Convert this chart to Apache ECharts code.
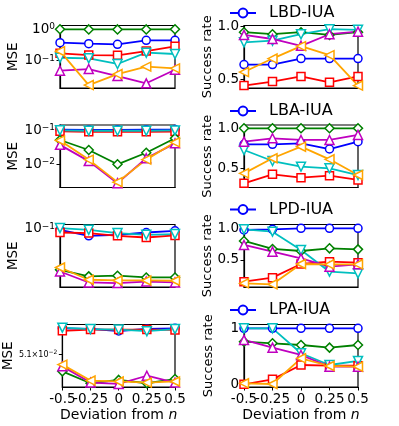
<!DOCTYPE html>
<html lang="en">
<head>
<meta charset="UTF-8">
<title>MSE and success rate vs deviation</title>
<script src="https://cdn.jsdelivr.net/npm/echarts@6/dist/echarts.min.js"></script>
<style>
  html, body { margin: 0; padding: 0; background: #fff; }
  #chart { width: 399px; height: 426px; }
</style>
</head>
<body>
<div id="chart"></div>
<script>
// x categories (deviation from n)
const deviations = ['-0.5', '-0.25', '0', '0.25', '0.5'];
const attacks = ['LBD-IUA', 'LBA-IUA', 'LPD-IUA', 'LPA-IUA'];

// line order: blue, red, green, cyan, magenta, orange
const mseLBD = [
  [0.37, 0.344, 0.33, 0.44, 0.44],
  [0.171, 0.151, 0.148, 0.202, 0.284],
  [0.98, 0.97, 0.97, 0.97, 0.98],
  [0.124, 0.119, 0.079, 0.179, 0.163],
  [0.0484, 0.0547, 0.0329, 0.0194, 0.052],
  [0.2, 0.0171, 0.038, 0.065, 0.0575]
];
const mseLBA = [
  [0.105, 0.102, 0.103, 0.104, 0.105],
  [0.093, 0.09, 0.09, 0.09, 0.092],
  [0.0515, 0.026, 0.0098, 0.0216, 0.058],
  [0.1, 0.097, 0.097, 0.097, 0.099],
  [0.037, 0.0122, 0.0027, 0.0148, 0.041],
  [0.05, 0.0135, 0.0029, 0.0135, 0.044]
];
const mseLPD = [
  [0.097, 0.0826, 0.0849, 0.0903, 0.0945],
  [0.0903, 0.0889, 0.0826, 0.0789, 0.0834],
  [0.0331, 0.0277, 0.0282, 0.0269, 0.0269],
  [0.1016, 0.097, 0.0889, 0.0849, 0.0865],
  [0.0316, 0.0235, 0.0231, 0.0241, 0.0235],
  [0.0352, 0.0253, 0.0248, 0.0248, 0.0246]
];
const mseLPA = [
  [0.05222, 0.05219, 0.05209, 0.05219, 0.05222],
  [0.0521, 0.05216, 0.05216, 0.05216, 0.05214],
  [0.05021, 0.04967, 0.04982, 0.04967, 0.04986],
  [0.05225, 0.05218, 0.05216, 0.05208, 0.05218],
  [0.05044, 0.0497, 0.04964, 0.05001, 0.0497],
  [0.05052, 0.04979, 0.04975, 0.0497, 0.04975]
];

const rateLBD = [
  [0.64, 0.64, 0.697, 0.697, 0.697],
  [0.443, 0.481, 0.529, 0.474, 0.529],
  [0.945, 0.926, 0.945, 0.919, 0.945],
  [0.85, 0.865, 0.926, 0.973, 0.967],
  [0.919, 0.881, 0.817, 0.926, 0.95],
  [0.57, 0.697, 0.814, 0.729, 0.443]
];
const rateLBA = [
  [0.8, 0.8, 0.8125, 0.741, 0.833],
  [0.312, 0.425, 0.383, 0.408, 0.354],
  [1.0, 1.0, 1.0, 1.0, 1.0],
  [0.729, 0.591, 0.52, 0.5, 0.416],
  [0.833, 0.875, 0.854, 0.854, 0.917],
  [0.437, 0.625, 0.77, 0.612, 0.416]
];
const rateLPD = [
  [0.974, 0.984, 1.0, 1.0, 1.0],
  [0.158, 0.221, 0.437, 0.474, 0.458],
  [0.8, 0.674, 0.642, 0.684, 0.668],
  [0.984, 0.947, 0.658, 0.316, 0.29],
  [0.737, 0.632, 0.526, 0.395, 0.432],
  [0.132, 0.116, 0.437, 0.432, 0.432]
];
const rateLPA = [
  [1.0, 1.0, 1.0, 1.0, 1.0],
  [0.0, 0.089, 0.345, 0.333, 0.333],
  [0.762, 0.732, 0.702, 0.655, 0.702],
  [1.0, 1.0, 0.554, 0.345, 0.417],
  [0.792, 0.655, 0.524, 0.315, 0.315],
  [0.018, 0.006, 0.464, 0.327, 0.315]
];

const mseRows = [mseLBD, mseLBA, mseLPD, mseLPA];
const rateRows = [rateLBD, rateLBA, rateLPD, rateLPA];

// axis ranges and ticks
const mseRanges = [[0.0138, 1.29], [0.00201, 0.1435], [0.0208, 0.112], [0.0495, 0.0524]];
const mseTicks = [[1, 0.1], [0.1, 0.01], [0.1], [0.051]];
const rateRanges = [[0.42, 1.008], [0.26, 1.041], [0.074, 1.06], [-0.048, 1.068]];
const rateTicks = [[0.5, 1], [0.5, 1], [0.5, 1], [0, 1]];

const colors = ['#0000ff', '#ff0000', '#008000', '#00bfbf', '#bf00bf', '#ffa500'];
const symbols = ['circle', 'rect', 'diamond', 'triangle', 'triangle', 'triangle'];
const symbolRot = [0, 0, 0, 180, 0, 90];
const symbolSizes = [8, 8, 9, 9, 9, 9];

const font = 'DejaVu Sans';
const rowTops = [25.5, 125, 224.5, 324.5];
const plotH = 62.5;
const colLeft = [60, 244];
const colWidth = [115, 114];
const legendTops = [4, 102, 200.5, 301];

const chart = echarts.init(document.getElementById('chart'), null, { renderer: 'canvas' });

function powLabel(v) {
  const e = Math.round(Math.log10(v));
  if (Math.abs(Math.pow(10, e) - v) / v < 1e-6) {
    return '{b|10}{e|' + String(e).replace('-', '\u2212') + '}';
  }
  const p = Math.floor(Math.log10(v));
  const m = v / Math.pow(10, p);
  return '{sb|' + m.toFixed(1) + '\u00d710}{se|' + String(p).replace('-', '\u2212') + '}';
}

const grids = [], xAxes = [], yAxes = [], series = [];

for (let r = 0; r < 4; r++) {
  for (let c = 0; c < 2; c++) {
    const idx = grids.length;
    const last = r === 3;
    grids.push({
      left: colLeft[c], top: rowTops[r], width: colWidth[c], height: plotH,
      show: true, borderColor: '#000', borderWidth: 1.2, backgroundColor: 'transparent'
    });
    xAxes.push({
      type: 'category', gridIndex: idx, data: deviations, boundaryGap: false,
      axisLine: { show: true, onZero: false, lineStyle: { color: '#000', width: 1.2 } },
      axisTick: { show: last, interval: 0, length: 3.5, lineStyle: { color: '#000' } },
      axisLabel: {
        show: last, interval: 0, color: '#000', fontFamily: font, fontSize: 13.5, margin: 5
      },
      splitLine: { show: false },
      name: last ? '{a|Deviation from }{i|n}' : '',
      nameLocation: 'middle', nameGap: 21,
      nameTextStyle: {
        rich: {
          a: { fontFamily: font, fontSize: 14, color: '#000' },
          i: { fontFamily: font, fontSize: 14, color: '#000', fontStyle: 'italic' }
        }
      }
    });
    if (c === 0) {
      yAxes.push({
        type: 'log', logBase: 10, gridIndex: idx,
        min: mseRanges[r][0], max: mseRanges[r][1],
        axisLine: { show: true, onZero: false, lineStyle: { color: '#000', width: 1.2 } },
        axisTick: { show: true, length: 3.5, customValues: mseTicks[r], lineStyle: { color: '#000' } },
        axisLabel: {
          color: '#000', fontFamily: font, margin: 5,
          customValues: mseTicks[r], formatter: powLabel,
          rich: {
            b: { fontFamily: font, fontSize: 13.5, lineHeight: 14, verticalAlign: 'bottom', color: '#000' },
            e: { fontFamily: font, fontSize: 9, lineHeight: 10, verticalAlign: 'top', padding: [0, 0, 9, 0], color: '#000' },
            sb: { fontFamily: font, fontSize: 8, lineHeight: 9, verticalAlign: 'bottom', color: '#000' },
            se: { fontFamily: font, fontSize: 6, lineHeight: 7, verticalAlign: 'top', padding: [0, 0, 4, 0], color: '#000' }
          }
        },
        splitLine: { show: false },
        minorTick: { show: false },
        name: 'MSE', nameLocation: 'middle', nameGap: 39,
        nameTextStyle: { fontFamily: font, fontSize: 13.5, color: '#000' }
      });
    } else {
      yAxes.push({
        type: 'value', gridIndex: idx,
        min: rateRanges[r][0], max: rateRanges[r][1],
        axisLine: { show: true, onZero: false, lineStyle: { color: '#000', width: 1.2 } },
        axisTick: { show: true, length: 3.5, customValues: rateTicks[r], lineStyle: { color: '#000' } },
        axisLabel: {
          color: '#000', fontFamily: font, fontSize: 13.5, margin: 5,
          customValues: rateTicks[r],
          formatter: v => (r === 3 ? String(Math.round(v)) : v.toFixed(1))
        },
        splitLine: { show: false },
        name: 'Success rate', nameLocation: 'middle', nameGap: 29,
        nameTextStyle: { fontFamily: font, fontSize: 13, color: '#000' }
      });
    }
    const rows = c === 0 ? mseRows[r] : rateRows[r];
    rows.forEach((vals, k) => {
      series.push({
        type: 'line',
        name: k === 0 ? attacks[r] : attacks[r] + ' #' + k,
        xAxisIndex: idx, yAxisIndex: idx,
        data: vals,
        symbol: symbols[k], symbolSize: symbolSizes[k], symbolRotate: symbolRot[k],
        showAllSymbol: true,
        lineStyle: { color: colors[k], width: 1.8 },
        itemStyle: { color: '#fff', borderColor: colors[k], borderWidth: 1.5 },
        emphasis: { disabled: true },
        silent: true
      });
    });
  }
}

// legend shows only the blue line of each row
const legends = attacks.map((a, r) => ({
  data: [a], left: 229, top: legendTops[r], padding: 0,
  itemWidth: 26, itemHeight: 11, selectedMode: false,
  textStyle: { fontFamily: font, fontSize: 16, color: '#000', lineHeight: 18, padding: [0, 0, 0, 8] }
}));

chart.setOption({
  animation: false,
  backgroundColor: '#fff',
  legend: legends,
  grid: grids,
  xAxis: xAxes,
  yAxis: yAxes,
  series: series
});
</script>
</body>
</html>
